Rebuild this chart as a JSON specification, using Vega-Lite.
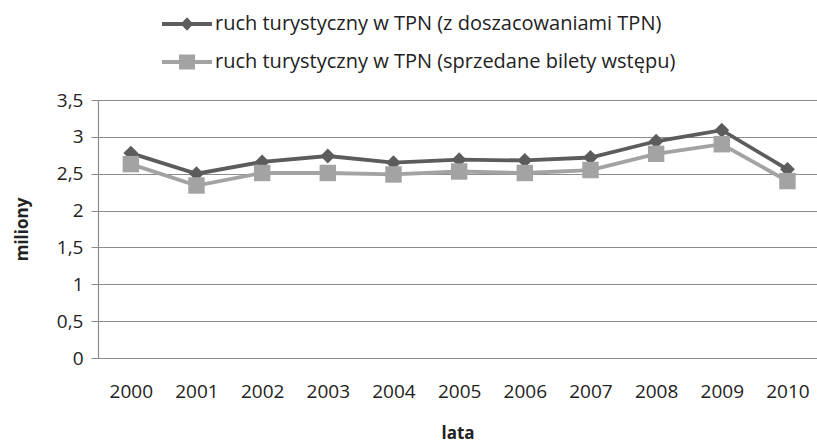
{
  "$schema": "https://vega.github.io/schema/vega-lite/v6.json",
  "width": 719,
  "height": 258,
  "autosize": {"type": "none"},
  "padding": {"left": 98, "top": 100, "right": 0, "bottom": 85},
  "background": "white",
  "config": {
    "view": {"stroke": null},
    "font": "Open Sans"
  },
  "data": {
    "values": [
      {"rok": 2000, "seria": "ruch turystyczny w TPN (z doszacowaniami TPN)", "wartosc": 2.78},
      {"rok": 2001, "seria": "ruch turystyczny w TPN (z doszacowaniami TPN)", "wartosc": 2.50},
      {"rok": 2002, "seria": "ruch turystyczny w TPN (z doszacowaniami TPN)", "wartosc": 2.66},
      {"rok": 2003, "seria": "ruch turystyczny w TPN (z doszacowaniami TPN)", "wartosc": 2.74},
      {"rok": 2004, "seria": "ruch turystyczny w TPN (z doszacowaniami TPN)", "wartosc": 2.65},
      {"rok": 2005, "seria": "ruch turystyczny w TPN (z doszacowaniami TPN)", "wartosc": 2.69},
      {"rok": 2006, "seria": "ruch turystyczny w TPN (z doszacowaniami TPN)", "wartosc": 2.68},
      {"rok": 2007, "seria": "ruch turystyczny w TPN (z doszacowaniami TPN)", "wartosc": 2.72},
      {"rok": 2008, "seria": "ruch turystyczny w TPN (z doszacowaniami TPN)", "wartosc": 2.94},
      {"rok": 2009, "seria": "ruch turystyczny w TPN (z doszacowaniami TPN)", "wartosc": 3.09},
      {"rok": 2010, "seria": "ruch turystyczny w TPN (z doszacowaniami TPN)", "wartosc": 2.56},
      {"rok": 2000, "seria": "ruch turystyczny w TPN (sprzedane bilety wstępu)", "wartosc": 2.63},
      {"rok": 2001, "seria": "ruch turystyczny w TPN (sprzedane bilety wstępu)", "wartosc": 2.34},
      {"rok": 2002, "seria": "ruch turystyczny w TPN (sprzedane bilety wstępu)", "wartosc": 2.51},
      {"rok": 2003, "seria": "ruch turystyczny w TPN (sprzedane bilety wstępu)", "wartosc": 2.51},
      {"rok": 2004, "seria": "ruch turystyczny w TPN (sprzedane bilety wstępu)", "wartosc": 2.49},
      {"rok": 2005, "seria": "ruch turystyczny w TPN (sprzedane bilety wstępu)", "wartosc": 2.53},
      {"rok": 2006, "seria": "ruch turystyczny w TPN (sprzedane bilety wstępu)", "wartosc": 2.51},
      {"rok": 2007, "seria": "ruch turystyczny w TPN (sprzedane bilety wstępu)", "wartosc": 2.55},
      {"rok": 2008, "seria": "ruch turystyczny w TPN (sprzedane bilety wstępu)", "wartosc": 2.77},
      {"rok": 2009, "seria": "ruch turystyczny w TPN (sprzedane bilety wstępu)", "wartosc": 2.90},
      {"rok": 2010, "seria": "ruch turystyczny w TPN (sprzedane bilety wstępu)", "wartosc": 2.40}
    ]
  },
  "encoding": {
    "x": {
      "field": "rok",
      "type": "quantitative",
      "scale": {"domain": [1999.5, 2010.45], "nice": false, "zero": false},
      "axis": {
        "values": [2000, 2001, 2002, 2003, 2004, 2005, 2006, 2007, 2008, 2009, 2010],
        "format": "d",
        "grid": false,
        "ticks": false,
        "domainColor": "#8a8a8a",
        "domainWidth": 1.2,
        "labelFont": "Open Sans",
        "labelFontSize": 19,
        "labelColor": "#222222",
        "labelPadding": 24,
        "title": "lata",
        "titleFont": "Open Sans",
        "titleFontSize": 17,
        "titleFontWeight": "bold",
        "titleColor": "#222222",
        "titleY": 75,
        "titleBaseline": "middle"
      }
    },
    "y": {
      "field": "wartosc",
      "type": "quantitative",
      "scale": {"domain": [0, 3.5], "nice": false},
      "axis": {
        "values": [0, 0.5, 1, 1.5, 2, 2.5, 3, 3.5],
        "labelExpr": "replace(format(datum.value, '~g'), '.', ',')",
        "grid": true,
        "gridColor": "#8c8c8c",
        "gridWidth": 1.2,
        "domainColor": "#8a8a8a",
        "domainWidth": 1.2,
        "tickColor": "#8a8a8a",
        "tickSize": 7,
        "labelFont": "Open Sans",
        "labelFontSize": 19,
        "labelColor": "#222222",
        "labelPadding": 8,
        "title": "miliony",
        "titleFont": "Open Sans",
        "titleFontSize": 17,
        "titleFontWeight": "bold",
        "titleColor": "#222222",
        "titleAngle": -90,
        "titleX": -76,
        "titleY": 129,
        "titleAlign": "center",
        "titleBaseline": "middle"
      }
    },
    "color": {
      "field": "seria",
      "type": "nominal",
      "scale": {
        "domain": ["ruch turystyczny w TPN (z doszacowaniami TPN)", "ruch turystyczny w TPN (sprzedane bilety wstępu)"],
        "range": ["#5c5c5c", "#a3a3a3"]
      },
      "legend": {
        "title": null,
        "orient": "none",
        "legendX": 74,
        "legendY": -91,
        "direction": "vertical",
        "padding": 0,
        "symbolSize": 900,
        "symbolStrokeWidth": 0,
        "symbolOpacity": 1,
        "labelFont": "Open Sans",
        "labelFontSize": 20,
        "labelColor": "#222222",
        "labelOffset": 13,
        "rowPadding": 13,
        "labelLimit": 700,
        "encode": {
          "symbols": {
            "update": {
              "shape": {"signal": "indexof(datum.label, 'doszacowaniami') >= 0 ? 'M-0.42,0L0,-0.45L0.42,0L0,0.45Z M-1.667,-0.133H1.667V0.133H-1.667Z' : 'M-0.533,-0.5H0.533V0.5H-0.533Z M-1.667,-0.133H1.667V0.133H-1.667Z'"},
              "fill": {"signal": "indexof(datum.label, 'doszacowaniami') >= 0 ? '#5c5c5c' : '#a3a3a3'"},
              "stroke": {"value": "transparent"},
              "strokeWidth": {"value": 0},
              "opacity": {"value": 1},
              "fillOpacity": {"value": 1}
            }
          }
        }
      }
    }
  },
  "layer": [
    {
      "mark": {"type": "line", "strokeWidth": 3.8}
    },
    {
      "transform": [{"filter": "indexof(datum.seria, 'doszacowaniami') >= 0"}],
      "mark": {"type": "point", "filled": true, "opacity": 1, "shape": "diamond", "size": 220}
    },
    {
      "transform": [{"filter": "indexof(datum.seria, 'doszacowaniami') < 0"}],
      "mark": {"type": "point", "filled": true, "opacity": 1, "shape": "square", "size": 270}
    }
  ]
}
